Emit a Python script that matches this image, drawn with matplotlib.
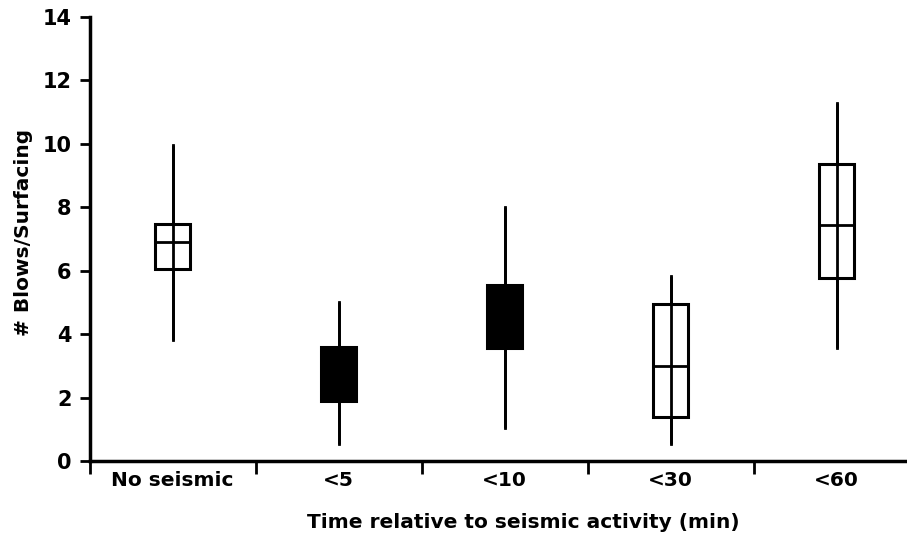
import matplotlib
matplotlib.use("Agg")
import matplotlib.pyplot as plt
from matplotlib.ticker import FixedLocator, NullFormatter

categories = ["No seismic", "<5", "<10", "<30", "<60"]
whisker_low = [3.82, 0.54, 1.03, 0.54, 3.56]
q1 = [6.05, 1.90, 3.55, 1.38, 5.76]
median = [6.90, 2.75, 4.55, 3.00, 7.44]
q3 = [7.47, 3.60, 5.55, 4.96, 9.37]
whisker_high = [9.97, 5.00, 8.02, 5.84, 11.30]
fills = ["white", "black", "black", "white", "white"]

plt.rcParams['font.family'] = ['DejaVu Sans']
plt.rcParams['font.weight'] = 'bold'

fig = plt.figure(figsize=(9.07, 5.37), dpi=100)
ax = fig.add_axes([89.5 / 907, 76 / 537, 830 / 907, 444 / 537])

stats = []
for i, c in enumerate(categories):
    stats.append(dict(label=c, whislo=whisker_low[i], q1=q1[i], med=median[i],
                      q3=q3[i], whishi=whisker_high[i], fliers=[]))

bp = ax.bxp(stats, positions=range(len(categories)), widths=0.21,
            patch_artist=True, showcaps=False, showfliers=False,
            boxprops=dict(linewidth=2.2, edgecolor="black"),
            medianprops=dict(color="black", linewidth=2),
            whiskerprops=dict(color="black", linewidth=2))
for patch, f in zip(bp["boxes"], fills):
    patch.set_facecolor(f)
    patch.set_zorder(2)
# whisker line through the box
for i in range(len(categories)):
    ax.plot([i, i], [whisker_low[i], whisker_high[i]], color="black",
            linewidth=2, zorder=3, solid_capstyle="butt")
for m in bp["medians"]:
    m.set_zorder(4)

ax.set_xlim(-0.5, 4.5)
ax.set_ylim(0, 14)
ax.set_yticks(range(0, 15, 2))
ax.set_xticks(range(len(categories)))
ax.set_xticklabels(categories, fontsize=14.5, fontweight="bold")
ax.xaxis.set_minor_locator(FixedLocator([-0.5, 0.5, 1.5, 2.5, 3.5, 4.5]))
ax.xaxis.set_minor_formatter(NullFormatter())
ax.tick_params(axis="x", which="major", length=0, pad=7)
ax.tick_params(axis="x", which="minor", length=9, width=2, direction="out")
ax.tick_params(axis="y", length=7, width=2, direction="out", labelsize=15, pad=6)
for lab in ax.get_yticklabels():
    lab.set_fontweight("bold")

for s in ["top", "right"]:
    ax.spines[s].set_visible(False)
for s in ["left", "bottom"]:
    ax.spines[s].set_linewidth(2.5)

ax.set_xlabel("Time relative to seismic activity (min)", fontsize=14.5,
              fontweight="bold")
ax.xaxis.set_label_coords(0.523, -0.117)
ax.set_ylabel("# Blows/Surfacing", fontsize=14.5, fontweight="bold")
ax.yaxis.set_label_coords(-0.068, 0.515)

fig.savefig("out.png", dpi=100)
